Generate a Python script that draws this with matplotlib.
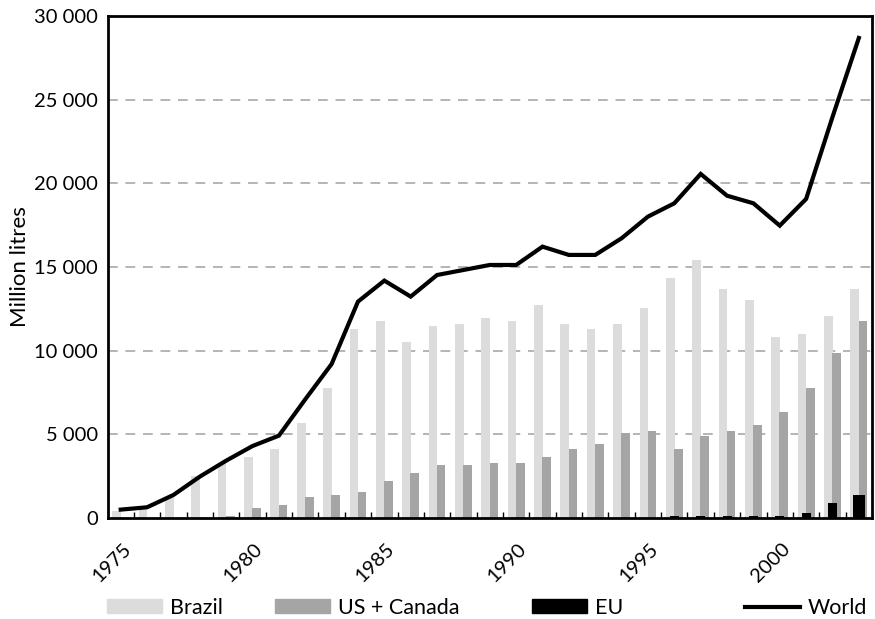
import numpy as np
import matplotlib
matplotlib.use("Agg")
import matplotlib.pyplot as plt
from matplotlib.transforms import ScaledTranslation
from matplotlib.patches import Patch
from matplotlib.lines import Line2D

plt.rcParams["font.family"] = ["Lato", "DejaVu Sans"]

# =========================
# Data (million litres)
# =========================

years = list(range(1975, 2004))

brazil = [440, 580, 1275, 2510, 3270, 3665, 4125, 5700, 7790, 11315,
          11795, 10540, 11475, 11615, 11950, 11775, 12730, 11595, 11295, 11595,
          12550, 14340, 15420, 13685, 13030, 10815, 10995, 12070, 13685]

us_canada = [0, 0, 0, 0, 140, 615, 775, 1275, 1375, 1575,
             2230, 2710, 3170, 3170, 3310, 3310, 3665, 4125, 4420, 5080,
             5200, 4125, 4920, 5200, 5560, 6335, 7770, 9860, 11775]

eu = [0, 0, 0, 0, 0, 0, 0, 0, 0, 0,
      0, 0, 0, 0, 0, 0, 0, 0, 0, 0,
      0, 110, 120, 120, 120, 120, 320, 915, 1395]

world = [500, 640, 1375, 2470, 3425, 4300, 4920, 7090, 9200, 12930,
         14185, 13230, 14520, 14820, 15120, 15120, 16215, 15720, 15720, 16715,
         18010, 18805, 20560, 19260, 18805, 17470, 19065, 23960, 28685]

series_labels = ["Brazil", "US + Canada", "EU", "World"]

# =========================
# Plot
# =========================

fig = plt.figure(figsize=(8.75, 6.19), dpi=100)
ax = fig.add_axes([0.1229, 0.1632, 0.8737, 0.811])

x = np.array(years)
bw = 0.33

ax.bar(x - 0.155, brazil, width=bw, color="#dcdcdc", zorder=2)
ax.bar(x + 0.155, us_canada, width=bw, color="#a5a5a5", zorder=2)

eu_w = np.full(len(years), 0.34)
eu_w[-1] = 0.48
ax.bar(x, eu, width=eu_w, color="black", zorder=3)

ax.plot(x, world, color="black", linewidth=3, zorder=4,
        solid_joinstyle="miter")

ax.set_xlim(1974.5, 2003.5)
ax.set_ylim(0, 30000)

yt = np.arange(0, 30001, 5000)
ax.set_yticks(yt)
ax.set_yticklabels([f"{v:,.0f}".replace(",", " ") for v in yt])
ax.tick_params(axis="y", length=0, pad=7, labelsize=14.5)

ax.set_xticks(np.arange(1975, 2001, 5))
ax.set_xticklabels([str(y) for y in range(1975, 2001, 5)],
                   rotation=45, ha="right", va="top",
                   rotation_mode="anchor")
ax.set_xticks(np.arange(1975.5, 2003, 1), minor=True)
ax.tick_params(axis="x", which="major", length=0, pad=16, labelsize=14.5)
ax.tick_params(axis="x", which="minor", direction="in", length=4, width=1)

for lbl in ax.get_xticklabels():
    lbl.set_transform(lbl.get_transform()
                      + ScaledTranslation(1 / 72, 0, fig.dpi_scale_trans))

for y in yt[1:-1]:
    ax.axhline(y, color="#b4b4b4", linewidth=1.4, linestyle=(0, (5, 4)),
               zorder=1)

for s in ax.spines.values():
    s.set_linewidth(2)

ax.set_ylabel("Million litres", fontsize=16)
ax.yaxis.set_label_coords(-0.1015, 0.5)

# =========================
# Legend
# =========================

handles = [
    Patch(color="#dcdcdc"),
    Patch(color="#a5a5a5"),
    Patch(color="black"),
    Line2D([], [], color="black", linewidth=3),
]
xpos = [0.1219, 0.3143, 0.6077, 0.8514]

for h, lab, xp in zip(handles, series_labels, xpos):
    leg = fig.legend([h], [lab], loc="center left",
                     bbox_to_anchor=(xp, 0.0178),
                     frameon=False, fontsize=15.5,
                     handlelength=2.56, handleheight=0.62,
                     handletextpad=0.37,
                     borderpad=0, borderaxespad=0)

fig.savefig("out.png", dpi=100)
